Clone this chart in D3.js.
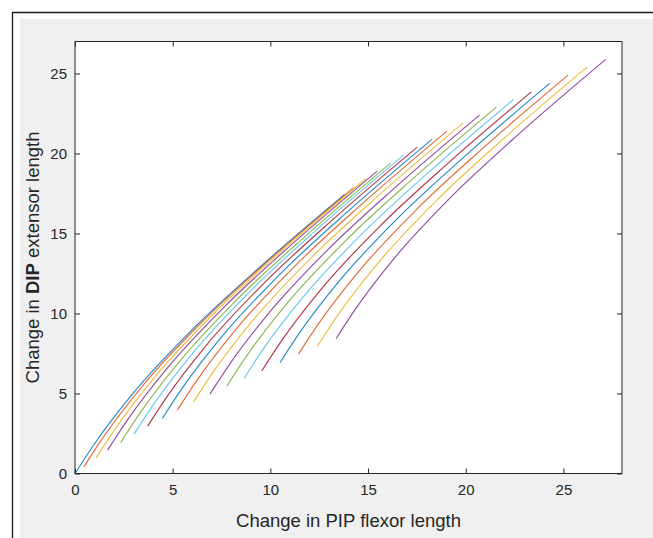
<!DOCTYPE html>
<meta charset="utf-8">
<script src="https://d3js.org/d3.v7.min.js"></script>

<style>
body{margin:0;background:#fff;}
text{font-family:"Liberation Sans",Arial,Helvetica,sans-serif;fill:#262626;}
</style>

<body>
<script>
// change in PIP flexor length, one row per curve
var pipX=[[0,1,3,6,9.5,13.8],
          [0.46,1.46,3.46,6.46,9.96,14.26],
          [1.08,2.08,4.08,7.08,10.58,14.88],
          [1.67,2.67,4.67,7.67,11.17,15.47],
          [2.34,3.34,5.34,8.34,11.84,16.14],
          [3.02,4.02,6.02,9.02,12.52,16.82],
          [3.72,4.72,6.72,9.72,13.22,17.52],
          [4.47,5.47,7.47,10.47,13.97,18.27],
          [5.24,6.24,8.24,11.24,14.74,19.04],
          [6.06,7.06,9.06,12.06,15.56,19.86],
          [6.91,7.91,9.91,12.91,16.41,20.71],
          [7.77,8.77,10.77,13.77,17.27,21.57],
          [8.65,9.65,11.65,14.65,18.15,22.45],
          [9.56,10.56,12.56,15.56,19.06,23.36],
          [10.50,11.50,13.50,16.50,20.00,24.30],
          [11.44,12.44,14.44,17.44,20.94,25.24],
          [12.41,13.41,15.41,18.41,21.91,26.21],
          [13.37,14.37,16.37,19.37,22.87,27.17]];
// change in DIP extensor length, same rows
var dipY=[[0,1.86,5.05,8.99,12.94,17.44],
          [0.43,2.29,5.48,9.42,13.37,17.87],
          [0.98,2.84,6.03,9.97,13.92,18.42],
          [1.46,3.32,6.51,10.45,14.40,18.90],
          [1.94,3.80,6.99,10.93,14.88,19.38],
          [2.46,4.32,7.51,11.45,15.40,19.90],
          [2.96,4.82,8.01,11.95,15.90,20.40],
          [3.44,5.30,8.49,12.43,16.38,20.88],
          [3.96,5.82,9.01,12.95,16.90,21.40],
          [4.46,6.32,9.51,13.45,17.40,21.90],
          [4.96,6.82,10.01,13.95,17.90,22.40],
          [5.46,7.32,10.51,14.45,18.40,22.90],
          [5.94,7.80,10.99,14.93,18.88,23.38],
          [6.41,8.27,11.46,15.40,19.35,23.85],
          [6.94,8.80,11.99,15.93,19.88,24.38],
          [7.46,9.32,12.51,16.45,20.40,24.90],
          [7.96,9.82,13.01,16.95,20.90,25.40],
          [8.44,10.30,13.49,17.43,21.38,25.88]];
var colors=["#0072BD","#D95319","#EDB120","#7E2F8E","#77AC30","#4DBEEE","#A2142F"];
var xTicks=[0,5,10,15,20,25];
var yTicks=[0,5,10,15,20,25];
var xMax=28, yMax=27;

var W=653,H=538;
var axL=75,axR=622,axT=41.5,axB=473.5;

var svg=d3.select("body").append("svg")
    .attr("width",W)
    .attr("height",H);

// figure window
svg.append("rect").attr("x",20).attr("y",19).attr("width",W-20).attr("height",H-19).attr("fill","#f0f0f0");
svg.append("line").attr("x1",12).attr("x2",W).attr("y1",12.5).attr("y2",12.5).attr("stroke","#1a1a1a").attr("stroke-width",1.3);
svg.append("line").attr("x1",12.5).attr("x2",12.5).attr("y1",12).attr("y2",H).attr("stroke","#1a1a1a").attr("stroke-width",1.3);

svg.append("rect").attr("x",axL).attr("y",axT).attr("width",axR-axL).attr("height",axB-axT).attr("fill","#fff");

var xscale=d3.scaleLinear().domain([0,xMax]).range([axL,axR]);
var yscale=d3.scaleLinear().domain([0,yMax]).range([axB,axT]);

svg.append("g").attr("transform","translate(0,"+axB+")")
    .call(d3.axisBottom(xscale).tickValues(xTicks).tickSize(-5).tickSizeOuter(0).tickPadding(11));
svg.append("g").attr("transform","translate("+axL+",0)")
    .call(d3.axisLeft(yscale).tickValues(yTicks).tickSize(-5).tickSizeOuter(0).tickPadding(8));
svg.append("g").attr("transform","translate(0,"+axT+")")
    .call(d3.axisTop(xscale).tickValues(xTicks).tickSize(-5).tickSizeOuter(0).tickFormat(""));
svg.append("g").attr("transform","translate("+axR+",0)")
    .call(d3.axisRight(yscale).tickValues(yTicks).tickSize(-5).tickSizeOuter(0).tickFormat(""));

svg.selectAll(".domain").remove();
svg.selectAll(".tick line").attr("stroke","#262626");
svg.selectAll(".tick text").style("font-size","15px").attr("fill","#333");

var line=d3.line()
    .x(function(d){return xscale(d[0]);})
    .y(function(d){return yscale(d[1]);})
    .curve(d3.curveMonotoneX);

for(i=0;i<pipX.length;i++)
{ var pts=pipX[i].map(function(v,j){return [v,dipY[i][j]];});
  svg.append("path")
     .datum(pts)
     .attr("d",line)
     .attr("fill","none")
     .attr("stroke",colors[i%colors.length])
     .attr("stroke-opacity",0.85)
     .attr("stroke-width",1.15);
}

// axes box on top of lines
svg.append("rect").attr("x",axL).attr("y",axT).attr("width",axR-axL).attr("height",axB-axT)
   .attr("fill","none").attr("stroke","#262626").attr("stroke-width",1);

svg.append("text")
   .attr("x",(axL+axR)/2).attr("y",527)
   .attr("text-anchor","middle")
   .attr("fill","#333")
   .style("font-size","18.5px")
   .text("Change in PIP flexor length");

var yl=svg.append("text")
   .attr("transform","translate(39,"+((axT+axB)/2)+") rotate(-90)")
   .attr("text-anchor","middle")
   .attr("fill","#333")
   .style("font-size","18.5px");
yl.append("tspan").text("Change in ");
yl.append("tspan").style("font-weight","bold").text("DIP");
yl.append("tspan").text(" extensor length");
</script>
</body>
</html>
